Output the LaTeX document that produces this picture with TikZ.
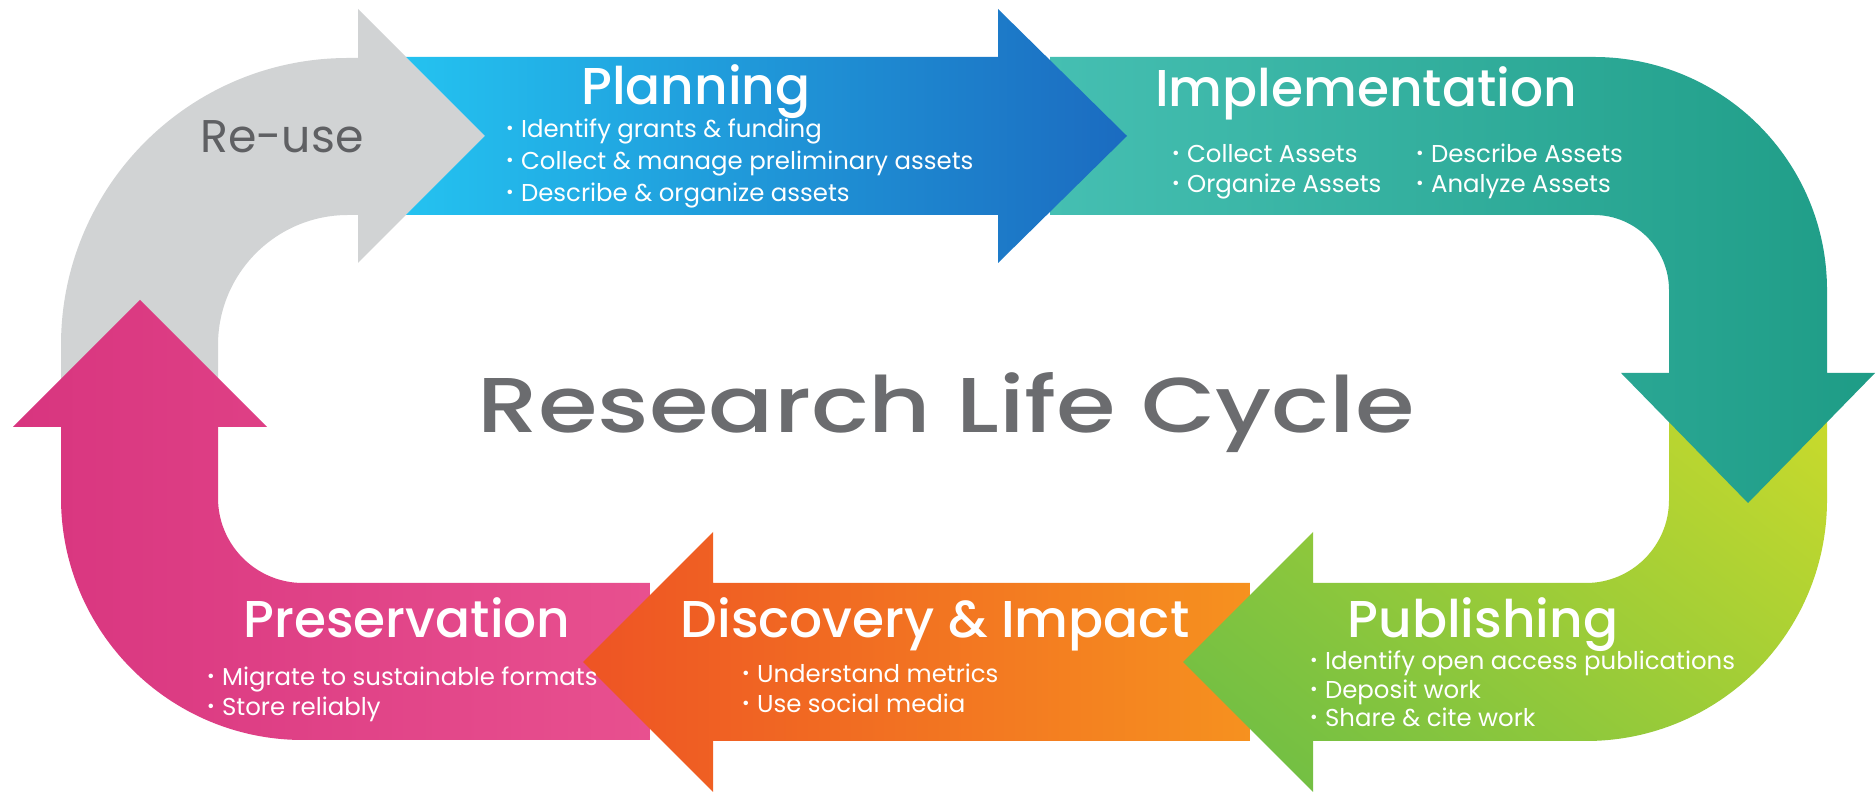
\documentclass[tikz,border=0pt]{standalone}
\usepackage{fontspec}
\setmainfont{Poppins}
\IfFontExistsTF{Poppins Medium}
  {\newfontfamily\headfont{Poppins Medium}}
  {\newfontfamily\headfont{Poppins}[UprightFont=*-Bold]}
\usetikzlibrary{positioning,shadings}

\definecolor{reusegray}{HTML}{D1D3D4}
\definecolor{reusetext}{HTML}{5F6063}
\definecolor{planL}{HTML}{24C2F0}
\definecolor{planR}{HTML}{1B6BC0}
\definecolor{implL}{HTML}{45BFB2}
\definecolor{implR}{HTML}{1E9C86}
\definecolor{pubL}{HTML}{69BC46}
\definecolor{pubR}{HTML}{C8DA2C}
\definecolor{discL}{HTML}{EE5424}
\definecolor{discR}{HTML}{F6911F}
\definecolor{presL}{HTML}{D8357F}
\definecolor{presR}{HTML}{E8508F}
\definecolor{cycletext}{HTML}{6B6C6F}

% small bullet in front of each item
\newcommand{\bul}{\raisebox{0.12em}{\scalebox{0.75}{•}}\hspace{0.3em}}

\begin{document}
\begin{tikzpicture}[
                    x=1bp, y=1bp,
                    stage/.style={font=\headfont\fontsize{52}{52}\selectfont, text=white, inner sep=0pt, anchor=base},
                    items/.style={font=\fontsize{24.5}{30}\selectfont, text=white, align=left, inner sep=0pt, anchor=north west},
                    band/.style={draw=none}
                ]
                \useasboundingbox (0,0) rectangle (1876,795);
                \fill[white] (0,0) rectangle (1876,795);

                % Re-use (left column and top corner)
                \fill[reusegray] (61,395) -- (61,450) arc[start angle=180, end angle=90, radius=287] -- (358,737)
                    -- (358,786) -- (485,659) -- (358,532) -- (358,580) -- (348,580)
                    arc[start angle=90, end angle=180, radius=130] -- (218,395) -- cycle;

                % Preservation (bottom left corner)
                \shade[band, upper left=presL, lower left=presL, upper right=presR, lower right=presR]
                    (650,212) -- (303,212) arc[start angle=270, end angle=180, radius=85] -- (218,368)
                    -- (267,368) -- (140,495) -- (13,368) -- (61,368) -- (61,297)
                    arc[start angle=180, end angle=270, radius=242] -- (650,55) -- cycle;

                % Discovery & Impact
                \shade[band, left color=discL, right color=discR]
                    (1250,212) -- (713,212) -- (713,263) -- (583,133) -- (713,3) -- (713,54) -- (1250,54) -- cycle;

                % Publishing (bottom right corner)
                \shade[band, upper left=pubL!60!pubR, lower left=pubL, upper right=pubR, lower right=pubL!45!pubR]
                    (1669,375) -- (1669,295) arc[start angle=0, end angle=-90, radius=83] -- (1313,212)
                    -- (1313,263) -- (1183,133) -- (1313,3) -- (1313,54) -- (1586,54)
                    arc[start angle=-90, end angle=0, radius=241] -- (1827,375) -- cycle;

                % Implementation (top right corner)
                \shade[band, left color=implL, right color=implR]
                    (1050,580) -- (1050,738) -- (1594,738) arc[start angle=90, end angle=0, radius=233]
                    -- (1827,422) -- (1875,422) -- (1748,292) -- (1621,422) -- (1669,422) -- (1669,505)
                    arc[start angle=0, end angle=90, radius=75] -- cycle;

                % Planning, notched where the Re-use head sits
                \shade[band, left color=planL, right color=planR]
                    (406,738) -- (998,738) -- (998,786) -- (1127,659) -- (998,532) -- (998,580)
                    -- (406,580) -- (485,659) -- cycle;

                % Labels
                \node[font=\fontsize{46}{46}\selectfont, text=reusetext, inner sep=0pt, anchor=base] (reuse) at (282,642) {Re-use};

                \node[stage] (plan) at (696,690) {Planning};
                \node[items, font=\fontsize{24.5}{32}\selectfont] (plan-items) at (506,676) {\bul Identify grants \& funding\\\bul Collect \& manage preliminary assets\\\bul Describe \& organize assets};

                \node[stage] (impl) at (1366,688) {Implementation};
                \node[items] (impl-items-a) at (1172,651) {\bul Collect Assets\\\bul Organize Assets};
                \node[items] (impl-items-b) at (1416,651) {\bul Describe Assets\\\bul Analyze Assets};

                \node[font=\headfont\fontsize{78}{78}\selectfont, text=cycletext, inner sep=0pt, anchor=base] (title) at (946,362) {\scalebox{1.24}[1]{Research Life Cycle}};

                \node[stage] (pub) at (1483,157) {Publishing};
                \node[items, font=\fontsize{24.5}{28.5}\selectfont] (pub-items) at (1310,144) {\bul Identify open access publications\\\bul Deposit work\\\bul Share \& cite work};

                \node[stage] (disc) at (935,157) {Discovery \& Impact};
                \node[items] (disc-items) at (742,131) {\bul Understand metrics\\\bul Use social media};

                \node[stage] (pres) at (407,157) {Preservation};
                \node[items] (pres-items) at (207,128) {\bul Migrate to sustainable formats\\\bul Store reliably};
            \end{tikzpicture}
\end{document}
